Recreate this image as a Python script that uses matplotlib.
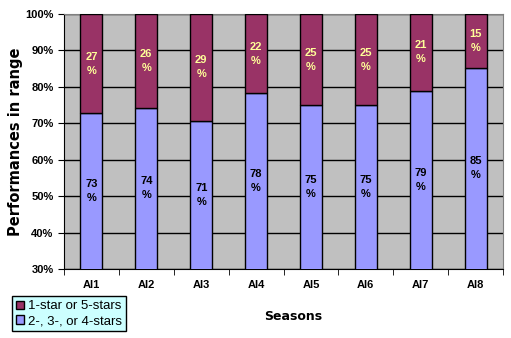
import numpy as np
import matplotlib.pyplot as plt
from matplotlib.ticker import FuncFormatter, MultipleLocator

seasons = ['AI1', 'AI2', 'AI3', 'AI4', 'AI5', 'AI6', 'AI7', 'AI8']
mid_stars = [72.7, 74.3, 70.7, 78.3, 75.0, 75.0, 79.0, 85.2]      # 2-, 3-, or 4-stars
extreme_stars = [100 - v for v in mid_stars]                     # 1-star or 5-stars

plt.rcParams['font.family'] = ['Liberation Sans', 'DejaVu Sans']

fig = plt.figure(figsize=(5.11, 3.38), dpi=100)
ax = fig.add_axes([64 / 511, 1 - 269 / 338, 439 / 511, 255 / 338])
ax.set_facecolor('#C0C0C0')

x = np.arange(len(seasons))
width = 0.4
b1 = ax.bar(x, mid_stars, width, color='#9999FF', edgecolor='black', linewidth=1.0, zorder=3,
            label='2-, 3-, or 4-stars')
b2 = ax.bar(x, extreme_stars, width, bottom=mid_stars, color='#993366', edgecolor='black',
            linewidth=1.0, zorder=3, label='1-star or 5-stars')

ax.set_ylim(30, 100)
ax.set_xlim(-0.5, len(seasons) - 0.5)
ax.yaxis.set_major_locator(MultipleLocator(10))
ax.yaxis.set_major_formatter(FuncFormatter(lambda y, pos: '%d%%' % y))
ax.yaxis.grid(True, color='black', linewidth=1.0, zorder=1)

ax.set_xticks(x)
ax.set_xticklabels(seasons, fontsize=8, fontweight='bold')
ax.set_xticks(np.arange(len(seasons) + 1) - 0.5, minor=True)
ax.tick_params(axis='x', which='major', length=0, pad=8)
ax.tick_params(axis='x', which='minor', length=4, direction='out')
ax.tick_params(axis='y', labelsize=8, length=4, direction='out')
for lbl in ax.get_yticklabels():
    lbl.set_fontweight('bold')

for s in ['top', 'right']:
    ax.spines[s].set_color('#808080')

for i in range(len(seasons)):
    lo = mid_stars[i]
    ax.text(x[i], (30 + lo) / 2, '%d\n%%' % round(lo), ha='center', va='center',
            fontsize=8, fontweight='bold', color='black', linespacing=1.5, zorder=4)
    ax.text(x[i], (lo + 100) / 2, '%d\n%%' % round(extreme_stars[i]), ha='center', va='center',
            fontsize=8, fontweight='bold', color='#FFFF99', linespacing=1.5, zorder=4)

ax.set_ylabel('Performances in range', fontsize=10.5, fontweight='bold', family='DejaVu Sans')
ax.yaxis.set_label_coords((23 - 64) / 439, 0.5)
fig.text(293 / 511, 1 - 317 / 338, 'Seasons', ha='center', va='center', fontsize=9,
         fontweight='bold', family='DejaVu Sans')

leg = fig.legend(handles=[b2, b1], loc='lower left', bbox_to_anchor=(12 / 511, 1 - 331 / 338),
                 fontsize=9.5, frameon=True, fancybox=False, handlelength=0.6, handleheight=0.6,
                 handletextpad=0.3, borderpad=0.3, labelspacing=0.2, borderaxespad=0)
leg.get_frame().set_facecolor('#CCFFFF')
leg.get_frame().set_edgecolor('black')
leg.get_frame().set_alpha(1)

fig.savefig('out.png', dpi=100)
